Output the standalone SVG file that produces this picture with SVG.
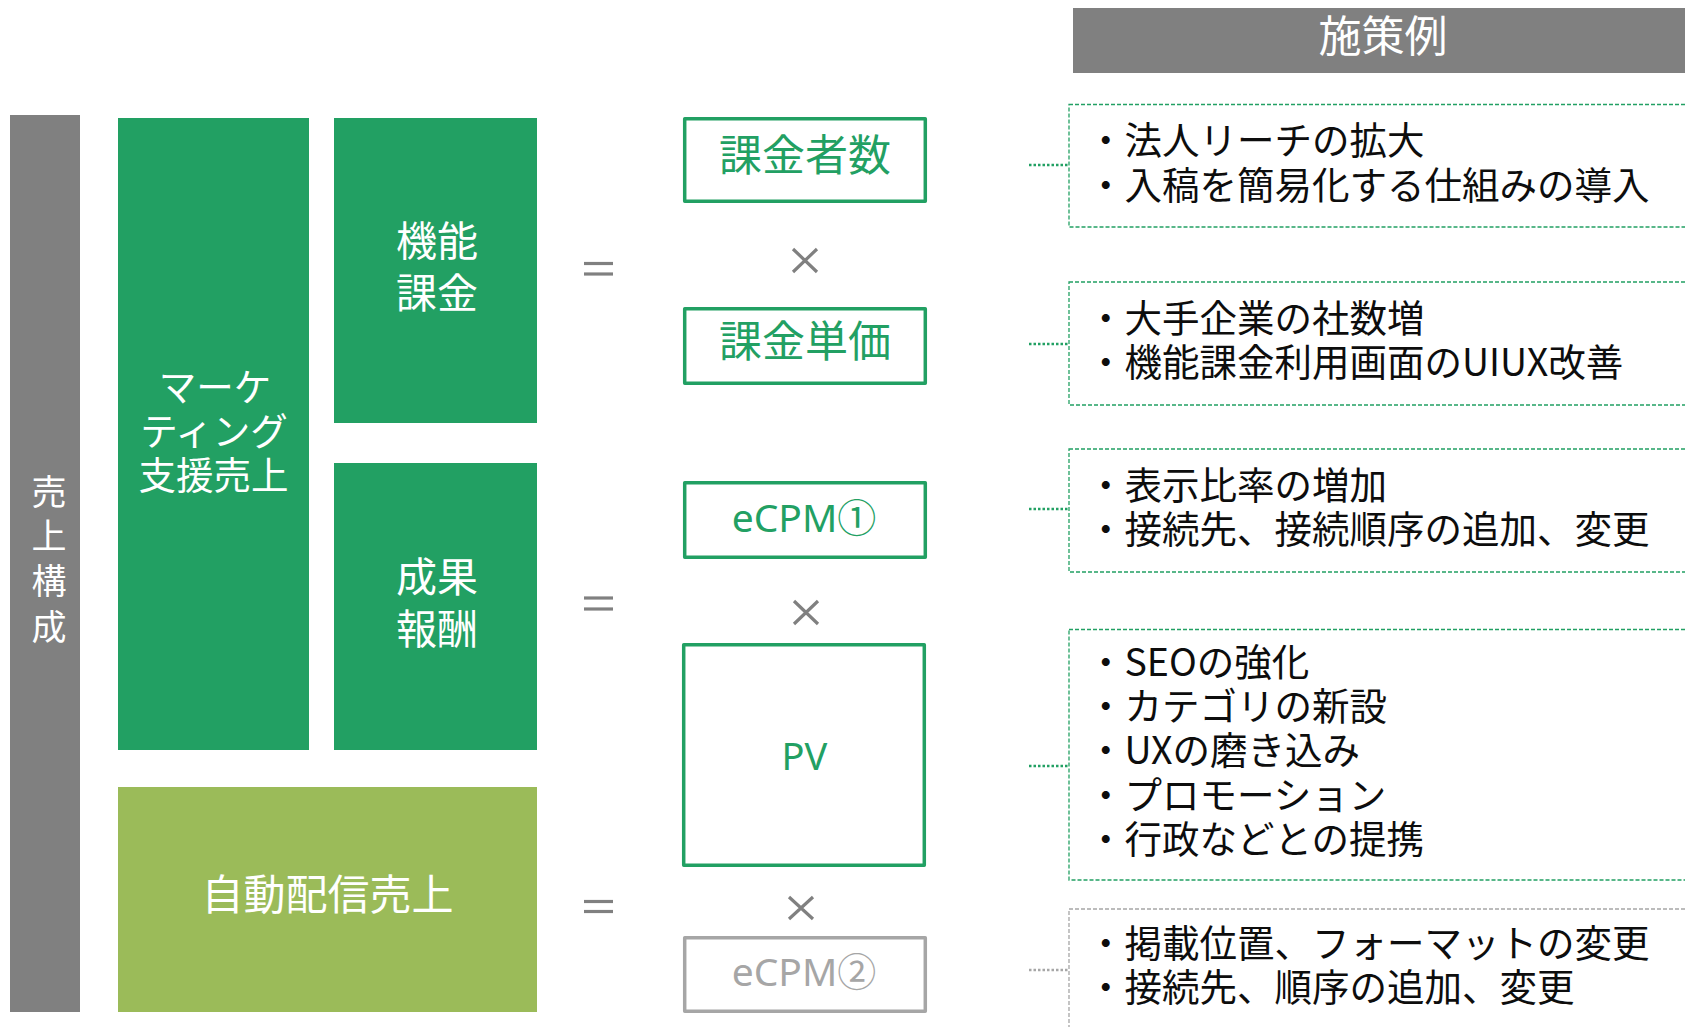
<svg xmlns="http://www.w3.org/2000/svg" width="1685" height="1027" viewBox="0 0 1685 1027">
<style>
  .jp { font-family: "Noto Sans CJK JP", "Noto Sans", sans-serif; }
  .lat { font-family: "Noto Sans", "Noto Sans CJK JP", sans-serif; }
  .white { fill: #FFFFFF; }
  .green-t { fill: #22A063; }
  .gray-t { fill: #A6A6A6; }
  .bullet { font-family: "Noto Sans CJK JP", sans-serif; font-size: 37.5px; fill: #0D0D0D; }
  .gbox { fill: #FFFFFF; stroke: #22A063; stroke-width: 3.5; stroke-linejoin: round; }
  .graybox { fill: #FFFFFF; stroke: #A6A6A6; stroke-width: 3.5; stroke-linejoin: round; }
  .dash-g { fill: none; stroke: #22A063; stroke-width: 1.3; stroke-dasharray: 4 2; }
  .dash-gray { fill: none; stroke: #A6A6A6; stroke-width: 1.3; stroke-dasharray: 4 2; }
  .dot-g { stroke: #22A063; stroke-width: 2.5; stroke-dasharray: 2.5 2; fill: none; }
  .dot-gray { stroke: #A6A6A6; stroke-width: 2.5; stroke-dasharray: 2.5 2; fill: none; }
  .op { stroke: #808080; stroke-width: 3.2; fill: none; }
</style>

<!-- header -->
<g id="header">
  <rect x="1073" y="8" width="620" height="65" fill="#808080"/>
  <text class="jp white" x="1383" y="52" font-size="43" text-anchor="middle">施策例</text>
</g>

<!-- left column -->
<g id="uriage-kosei">
  <rect x="10" y="115" width="70" height="897" fill="#808080"/>
  <text class="jp white" x="49" y="505" font-size="35" text-anchor="middle">売</text>
  <text class="jp white" x="49" y="549" font-size="35" text-anchor="middle">上</text>
  <text class="jp white" x="49" y="594" font-size="35" text-anchor="middle">構</text>
  <text class="jp white" x="49" y="640" font-size="35" text-anchor="middle">成</text>
</g>

<g id="marketing">
  <rect x="118" y="118" width="191" height="632" fill="#22A063"/>
  <text class="jp white" x="215" y="401" font-size="37.5" text-anchor="middle">マーケ</text>
  <text class="jp white" x="214" y="445" font-size="37.5" text-anchor="middle">ティング</text>
  <text class="jp white" x="213.5" y="489" font-size="37.5" text-anchor="middle">支援売上</text>
</g>

<g id="kino-kakin">
  <rect x="334" y="118" width="203" height="305" fill="#22A063"/>
  <text class="jp white" x="437" y="256" font-size="41" text-anchor="middle">機能</text>
  <text class="jp white" x="437" y="308" font-size="41" text-anchor="middle">課金</text>
</g>

<g id="seika-hoshu">
  <rect x="334" y="463" width="203" height="287" fill="#22A063"/>
  <text class="jp white" x="437" y="592" font-size="41" text-anchor="middle">成果</text>
  <text class="jp white" x="437" y="644" font-size="41" text-anchor="middle">報酬</text>
</g>

<g id="jido-haishin">
  <rect x="118" y="787" width="419" height="225" fill="#9BBB59"/>
  <text class="jp white" x="327.5" y="910" font-size="42" text-anchor="middle">自動配信売上</text>
</g>

<!-- metric boxes -->
<g id="kakinsha-su">
  <rect class="gbox" x="684.7" y="118.7" width="240.6" height="82.6"/>
  <text class="jp green-t" x="805" y="171" font-size="43" text-anchor="middle">課金者数</text>
</g>
<g id="kakin-tanka">
  <rect class="gbox" x="684.7" y="308.7" width="240.6" height="74.6"/>
  <text class="jp green-t" x="805" y="357" font-size="43" text-anchor="middle">課金単価</text>
</g>
<g id="ecpm1">
  <rect class="gbox" x="684.7" y="482.7" width="240.6" height="74.6"/>
  <text class="lat green-t" x="804" y="532" font-size="39" text-anchor="middle">eCPM①</text>
</g>
<g id="pv">
  <rect class="gbox" x="683.7" y="644.7" width="240.6" height="220.6"/>
  <text class="lat green-t" x="804.5" y="770" font-size="38" text-anchor="middle">PV</text>
</g>
<g id="ecpm2">
  <rect class="graybox" x="684.7" y="937.7" width="240.6" height="73.6"/>
  <text class="lat gray-t" x="804" y="986" font-size="39" text-anchor="middle">eCPM②</text>
</g>

<!-- measure boxes -->
<g id="measure-1">
  <rect class="dash-g" x="1069" y="104.5" width="640" height="122.5"/>
  <text class="bullet" x="1087" y="154">・法人リーチの拡大</text>
  <text class="bullet" x="1087" y="199">・入稿を簡易化する仕組みの導入</text>
</g>
<g id="measure-2">
  <rect class="dash-g" x="1069" y="282" width="640" height="123"/>
  <text class="bullet" x="1087" y="332">・大手企業の社数増</text>
  <text class="bullet" x="1087" y="376">・機能課金利用画面のUIUX改善</text>
</g>
<g id="measure-3">
  <rect class="dash-g" x="1069" y="449" width="640" height="123"/>
  <text class="bullet" x="1087" y="499">・表示比率の増加</text>
  <text class="bullet" x="1087" y="543">・接続先、接続順序の追加、変更</text>
</g>
<g id="measure-4">
  <rect class="dash-g" x="1069" y="629.5" width="640" height="250.5"/>
  <text class="bullet" x="1087" y="676">・SEOの強化</text>
  <text class="bullet" x="1087" y="720">・カテゴリの新設</text>
  <text class="bullet" x="1087" y="764">・UXの磨き込み</text>
  <text class="bullet" x="1087" y="809">・プロモーション</text>
  <text class="bullet" x="1087" y="853">・行政などとの提携</text>
</g>
<g id="measure-5">
  <rect class="dash-gray" x="1069" y="909" width="640" height="140"/>
  <text class="bullet" x="1087" y="957">・掲載位置、フォーマットの変更</text>
  <text class="bullet" x="1087" y="1001">・接続先、順序の追加、変更</text>
</g>

<!-- connectors and operators -->
<g id="connectors">
  <line class="dot-g" x1="1029" y1="165" x2="1068" y2="165"/>
  <line class="dot-g" x1="1029" y1="344" x2="1068" y2="344"/>
  <line class="dot-g" x1="1029" y1="509" x2="1068" y2="509"/>
  <line class="dot-g" x1="1029" y1="766" x2="1068" y2="766"/>
  <line class="dot-gray" x1="1029" y1="970" x2="1068" y2="970"/>

  <!-- equals -->
  <line class="op" x1="584" y1="263.5" x2="613" y2="263.5"/>
  <line class="op" x1="584" y1="274" x2="613" y2="274"/>
  <line class="op" x1="584" y1="598" x2="613" y2="598"/>
  <line class="op" x1="584" y1="609" x2="613" y2="609"/>
  <line class="op" x1="584" y1="901.5" x2="613" y2="901.5"/>
  <line class="op" x1="584" y1="911.5" x2="613" y2="911.5"/>

  <!-- times -->
  <path class="op" d="M793 249 L817 272 M817 249 L793 272"/>
  <path class="op" d="M794 601 L818 624 M818 601 L794 624"/>
  <path class="op" d="M789 897 L813 919 M813 897 L789 919"/>
</g>
</svg>
